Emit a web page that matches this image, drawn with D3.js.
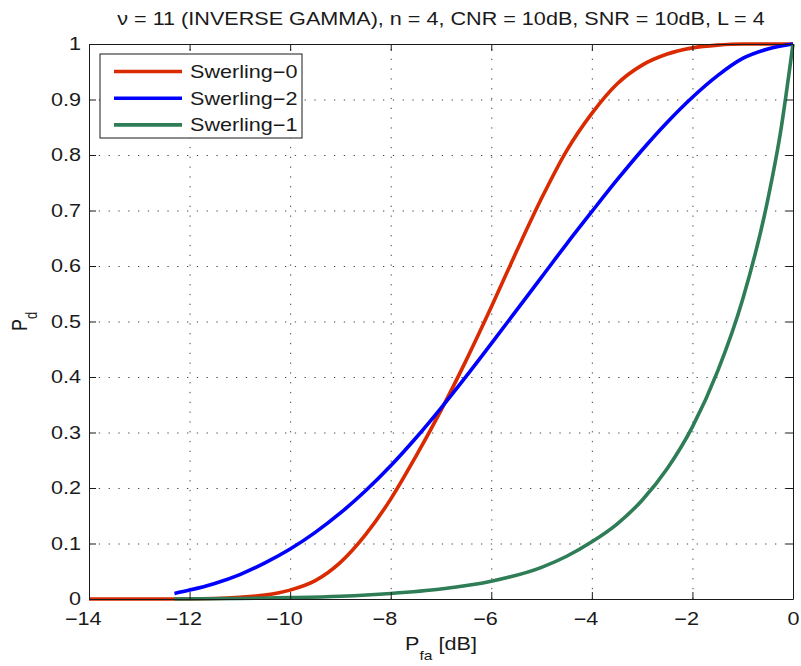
<!DOCTYPE html>
<html>
<head>
<meta charset="utf-8">
<script src="https://cdn.jsdelivr.net/npm/d3@7"></script>
<style>
  body { margin: 0; background: #fff; }
  svg { display: block; font-family: "Liberation Sans", Helvetica, Arial, sans-serif; }
  .axis text { font-size: 18px; fill: #1a1a1a; }
  .axis path, .axis line { stroke: #1a1a1a; stroke-width: 1; }
  .grid line { stroke: #444; stroke-dasharray: 1.3, 8.5; }
  .grid path { display: none; }
  .label { font-size: 18px; fill: #1a1a1a; }
</style>
</head>
<body>
<div id="chart-area"></div>
<script>

/* data */
const pfaSw0 = [-14, -12.5, -11.5, -11, -10.5, -10, -9.5, -9, -8.5, -8, -7.5, -7, -6.5, -6, -5.5, -5, -4.5, -4, -3.5, -3, -2.5, -2, -1.5, -1, 0];
const pdSw0 = [0, 0, 0.001, 0.003, 0.007, 0.016, 0.033, 0.066, 0.116, 0.18, 0.257, 0.34, 0.43, 0.526, 0.626, 0.722, 0.808, 0.875, 0.928, 0.962, 0.982, 0.993, 0.998, 1, 1];

const pfaSw2 = [-12.3, -12, -11.5, -11, -10.5, -10, -9.5, -9, -8.5, -8, -7.5, -7, -6.5, -6, -5.5, -5, -4.5, -4, -3.5, -3, -2.5, -2, -1.5, -1, -0.5, 0];
const pdSw2 = [0.01, 0.016, 0.028, 0.044, 0.065, 0.09, 0.12, 0.155, 0.195, 0.24, 0.29, 0.344, 0.401, 0.46, 0.52, 0.58, 0.64, 0.698, 0.755, 0.809, 0.859, 0.904, 0.943, 0.974, 0.991, 1];

const pfaSw1 = [-12.3, -11, -10, -9, -8, -7, -6, -5, -4.5, -4, -3.5, -3, -2.5, -2, -1.5, -1, -0.5, -0.25, 0];
const pdSw1 = [0, 0.001, 0.0025, 0.005, 0.01, 0.018, 0.032, 0.057, 0.077, 0.103, 0.135, 0.178, 0.235, 0.31, 0.41, 0.54, 0.72, 0.84, 1];

const seriesNames = ["Swerling\u22120", "Swerling\u22122", "Swerling\u22121"];
const seriesColors = ["#d92a00", "#0000ff", "#2e7d57"];

const xTicks = [-14, -12, -10, -8, -6, -4, -2, 0];
const yTicks = [0, 0.1, 0.2, 0.3, 0.4, 0.5, 0.6, 0.7, 0.8, 0.9, 1];

const titleText = "\u03bd = 11 (INVERSE GAMMA), n = 4, CNR = 10dB, SNR = 10dB, L = 4";

/* graphical constants */
const SX = 1.2;   // the picture's text is a bit wider than tall
const margin = { left: 89, right: 8, top: 44, bottom: 67 };
const width = 801 - margin.left - margin.right;
const height = 666 - margin.top - margin.bottom;
const TICK = 7;

const svg = d3.select("#chart-area")
    .append("svg")
    .attr("width", 801)
    .attr("height", 666);

const g = svg.append("g")
    .attr("transform", "translate(" + margin.left + ", " + margin.top + ")");

const x = d3.scaleLinear().domain([-14, 0]).range([0, width]);
const y = d3.scaleLinear().domain([0, 1]).range([height, 0]);

// stretch axis text horizontally, keeping its anchor
function stretch(sel) {
    sel.each(function () {
        const t = d3.select(this);
        const x0 = +t.attr("x") || 0;
        t.attr("x", x0 / SX).attr("transform", "scale(" + SX + ",1)");
    });
}

// grid
g.append("g")
    .attr("class", "grid")
    .attr("transform", "translate(0," + height + ")")
    .call(d3.axisBottom(x).tickValues(xTicks.slice(1, -1)).tickSize(-height).tickFormat(""));
g.append("g")
    .attr("class", "grid")
    .call(d3.axisLeft(y).tickValues(yTicks.slice(1, -1)).tickSize(-width).tickFormat(""));

// curves
const line = d3.line()
    .x(d => x(d[0]))
    .y(d => y(d[1]))
    .curve(d3.curveMonotoneX);

const series = [
    d3.zip(pfaSw0, pdSw0),
    d3.zip(pfaSw2, pdSw2),
    d3.zip(pfaSw1, pdSw1)
];

g.selectAll("path.curve")
    .data(series)
    .enter()
    .append("path")
    .attr("class", "curve")
    .attr("fill", "none")
    .attr("stroke", (d, i) => seriesColors[i])
    .attr("stroke-width", 3.6)
    .attr("stroke-linejoin", "round")
    .attr("d", line);

// axes (ticks point inward, box on)
const fmtX = d => (d < 0 ? "\u2212" + Math.abs(d) : "" + d);

const xAxisGroup = g.append("g")
    .attr("class", "axis")
    .attr("transform", "translate(0," + height + ")")
    .call(d3.axisBottom(x).tickValues(xTicks).tickSizeInner(-TICK).tickSizeOuter(0).tickFormat(fmtX));
xAxisGroup.selectAll("text")
    .attr("y", 26)
    .attr("dy", null)
    .attr("dx", d => (d < 0 ? "-0.292em" : null))
    .call(stretch);

const yAxisGroup = g.append("g")
    .attr("class", "axis")
    .call(d3.axisLeft(y).tickValues(yTicks).tickSizeInner(-TICK).tickSizeOuter(0).tickFormat(d => "" + d));
yAxisGroup.selectAll("text")
    .attr("x", -8)
    .call(stretch);

g.append("g")
    .attr("class", "axis")
    .call(d3.axisTop(x).tickValues(xTicks).tickSizeInner(-TICK).tickSizeOuter(0).tickFormat(""));
g.append("g")
    .attr("class", "axis")
    .attr("transform", "translate(" + width + ",0)")
    .call(d3.axisRight(y).tickValues(yTicks).tickSizeInner(-TICK).tickSizeOuter(0).tickFormat(""));

// title
svg.append("g")
    .attr("transform", "translate(" + (margin.left + width / 2) + ",25) scale(" + SX + ",1)")
    .append("text")
    .attr("class", "label")
    .attr("text-anchor", "middle")
    .text(titleText);

// x label
const xl = svg.append("g")
    .attr("transform", "translate(" + (margin.left + width / 2) + ",650) scale(" + SX + ",1)")
    .append("text")
    .attr("class", "label")
    .attr("text-anchor", "middle");
xl.append("tspan").text("P");
xl.append("tspan").attr("font-size", "13px").attr("dy", 10).text("fa");
xl.append("tspan").attr("dy", -10).text(" [dB]");

// y label
const yl = svg.append("g")
    .attr("transform", "translate(27," + (margin.top + height / 2) + ") rotate(-90) scale(1," + SX + ")")
    .append("text")
    .attr("class", "label")
    .attr("text-anchor", "middle");
yl.append("tspan").text("P");
yl.append("tspan").attr("font-size", "13px").attr("dy", 8).text("d");

// legend
const legend = svg.append("g").attr("transform", "translate(100,54)");
legend.append("rect")
    .attr("width", 202)
    .attr("height", 84)
    .attr("fill", "#fff")
    .attr("stroke", "#1a1a1a");

const entries = legend.selectAll("g.entry")
    .data(seriesNames)
    .enter()
    .append("g")
    .attr("class", "entry")
    .attr("transform", (d, i) => "translate(0," + (17.5 + i * 26.7) + ")");
entries.append("line")
    .attr("x1", 14).attr("x2", 82)
    .attr("stroke", (d, i) => seriesColors[i])
    .attr("stroke-width", 3.6);
entries.append("g")
    .attr("transform", "translate(90,0) scale(" + SX + ",1)")
    .append("text")
    .attr("class", "label")
    .attr("dy", "0.35em")
    .text(d => d);

</script>
</body>
</html>
